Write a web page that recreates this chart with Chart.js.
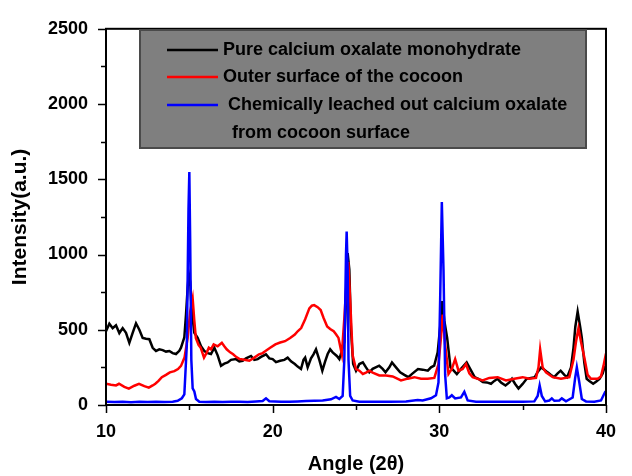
<!DOCTYPE html>
<html><head><meta charset="utf-8">
<script src="https://cdn.jsdelivr.net/npm/chart.js@4/dist/chart.umd.min.js"></script>
<style>html,body{margin:0;padding:0;background:#fff}#wrap{width:632px;height:476px}</style>
</head><body><div id="wrap"><canvas id="c" width="632" height="476"></canvas></div>
<script>
const seriesLabels = ["Pure calcium oxalate monohydrate", "Outer surface of the cocoon", " Chemically leached out calcium oxalate"];
const legendExtraLine = "from cocoon surface";
const xTickLabels = [10, 20, 30, 40];
const yTickLabels = [0, 500, 1000, 1500, 2000, 2500];

const blackAngle = [10.0,10.2,10.4,10.6,10.8,11.0,11.2,11.4,11.6,11.8,12.0,12.2,12.4,12.6,12.8,13.0,13.2,13.4,13.6,13.8,14.0,14.2,14.4,14.5,14.7,14.8,14.9,14.97,15.05,15.15,15.3,15.5,15.7,15.9,16.1,16.3,16.5,16.7,16.9,17.1,17.3,17.5,17.8,18.0,18.2,18.4,18.7,18.9,19.1,19.3,19.6,19.8,20.0,20.2,20.45,20.7,20.9,21.1,21.33,21.5,21.7,21.85,21.95,22.1,22.3,22.45,22.6,22.8,22.98,23.15,23.3,23.45,23.6,23.85,24.0,24.15,24.3,24.4,24.5,24.6,24.7,24.83,25.0,25.2,25.41,25.6,25.8,26.0,26.39,26.6,26.77,27.0,27.16,27.4,27.65,27.9,28.14,28.4,28.72,29.0,29.31,29.5,29.69,29.9,30.05,30.18,30.3,30.47,30.67,30.85,31.05,31.3,31.64,31.9,32.12,32.4,32.61,32.85,33.1,33.3,33.49,33.7,33.97,34.2,34.36,34.55,34.75,35.0,35.24,35.5,35.73,35.9,36.11,36.3,36.5,36.7,36.89,37.1,37.28,37.5,37.67,37.9,38.05,38.16,38.3,38.45,38.55,38.7,38.84,39.0,39.23,39.4,39.61,39.8,39.91,40.0];
const blackIntensity = [490,540,510,530,478,511,480,413,480,543,500,446,440,437,380,359,370,365,355,359,345,339,360,381,450,600,780,870,820,620,480,446,390,359,345,339,381,330,261,275,283,300,305,290,294,310,326,300,305,320,337,310,305,285,294,300,315,290,272,255,239,300,315,250,310,337,370,300,228,290,339,370,350,326,305,359,420,700,1010,900,500,272,228,272,283,250,217,240,261,240,217,250,283,250,217,200,185,210,239,235,228,250,261,350,520,690,560,446,250,230,206,240,283,230,185,170,152,150,141,160,174,150,130,150,174,140,109,140,174,180,185,220,250,235,217,200,185,210,228,200,185,250,380,520,620,520,446,280,174,160,141,155,174,210,250,260];

const redAngle = [10.0,10.3,10.6,10.78,11.1,11.37,11.7,11.98,12.3,12.57,12.8,12.96,13.15,13.35,13.6,13.83,14.1,14.32,14.5,14.71,14.9,15.05,15.2,15.3,15.39,15.55,15.68,15.88,16.05,16.17,16.3,16.46,16.7,16.95,17.1,17.24,17.45,17.63,17.8,18.02,18.3,18.6,18.9,19.18,19.4,19.57,19.85,20.16,20.45,20.74,21.05,21.33,21.5,21.71,21.95,22.2,22.35,22.49,22.7,22.88,23.05,23.27,23.45,23.66,23.8,23.95,24.15,24.3,24.45,24.54,24.65,24.8,25.0,25.2,25.41,25.6,25.8,26.0,26.4,26.8,27.2,27.7,28.1,28.5,28.9,29.3,29.7,29.95,30.1,30.2,30.35,30.55,30.75,30.95,31.15,31.4,31.6,31.8,32.0,32.6,33.0,33.5,34.0,34.5,35.0,35.4,35.8,35.95,36.05,36.2,36.4,36.8,37.3,37.8,38.05,38.2,38.35,38.5,38.7,38.9,39.1,39.5,39.7,39.85,39.95,40.0];
const redIntensity = [141,135,130,141,120,109,128,141,125,115,130,141,160,185,200,217,225,239,260,315,446,620,707,560,446,400,381,315,350,381,370,403,390,413,390,370,350,337,320,305,300,294,315,337,345,359,380,403,415,424,445,468,490,511,570,642,660,664,650,631,580,522,505,490,470,446,337,576,850,950,700,330,239,228,206,215,228,215,196,196,190,163,175,185,174,174,180,272,450,600,400,206,240,305,228,240,272,210,185,163,180,185,163,175,185,174,180,250,370,250,217,185,174,185,300,420,511,420,315,200,174,174,190,260,315,300];

const blueAngle = [10.0,10.5,11.0,11.5,12.0,12.5,13.0,13.5,14.0,14.3,14.55,14.7,14.85,14.95,15.0,15.05,15.12,15.2,15.3,15.4,15.6,16.0,16.5,17.0,17.5,18.0,18.5,19.0,19.4,19.6,19.8,20.5,21.0,21.5,22.0,22.5,23.0,23.5,23.8,24.0,24.2,24.3,24.4,24.44,24.5,24.55,24.65,24.8,25.2,26.0,27.0,28.0,28.7,29.0,29.5,29.8,29.95,30.05,30.15,30.25,30.35,30.45,30.6,30.75,30.95,31.3,31.5,31.7,32.2,33.0,34.0,35.0,35.7,35.9,36.02,36.15,36.35,36.6,36.75,36.9,37.2,37.35,37.6,38.0,38.15,38.25,38.4,38.55,38.8,39.3,39.7,39.95,40.0];
const blueIntensity = [22,20,22,18,22,20,22,20,22,28,45,70,400,1300,1548,1100,300,110,90,40,22,20,22,20,22,22,20,24,26,44,25,22,22,24,26,28,30,38,54,40,60,300,1000,1153,900,300,60,30,22,22,22,24,33,30,45,65,150,700,1349,900,200,44,50,65,44,50,87,30,22,22,22,22,24,60,130,60,24,30,44,28,30,44,25,50,180,250,150,40,24,22,30,87,90];

function pts(xs, ys){ return xs.map((x,i)=>({x:x, y:ys[i]})); }

const FONT = "'Liberation Sans', Arial, sans-serif";

const framePlugin = {
  id: 'frame',
  afterDatasetsDraw(chart){
    const {ctx, chartArea:a, scales} = chart;
    ctx.save();
    ctx.strokeStyle = '#000';
    ctx.lineWidth = 2;
    ctx.strokeRect(a.left, a.top, a.right - a.left, a.bottom - a.top);
    ctx.lineWidth = 1.5;
    ctx.beginPath();
    for (let v = 0; v <= 2500; v += 250) {
      const y = Math.round(scales.y.getPixelForValue(v)) + 0.5;
      const len = (v % 500 === 0) ? 8 : 5;
      ctx.moveTo(a.left, y); ctx.lineTo(a.left - len, y);
    }
    for (let v = 10; v <= 40; v += 5) {
      const x = Math.round(scales.x.getPixelForValue(v)) + 0.5;
      const len = (v % 10 === 0) ? 8 : 5;
      ctx.moveTo(x, a.bottom); ctx.lineTo(x, a.bottom + len);
    }
    ctx.stroke();
    const bx = 140, by = 30, bw = 446, bh = 118;
    ctx.fillStyle = '#7f7f7f';
    ctx.fillRect(bx, by, bw, bh);
    ctx.strokeStyle = '#4a4a4a';
    ctx.lineWidth = 2;
    ctx.strokeRect(bx, by, bw, bh);
    const rows = [50, 77, 105];
    ctx.font = 'bold 18px ' + FONT;
    ctx.textBaseline = 'middle';
    ctx.textAlign = 'left';
    chart.data.datasets.forEach((ds, i) => {
      const yy = rows[i];
      ctx.strokeStyle = ds.borderColor;
      ctx.lineWidth = 2.5;
      ctx.beginPath(); ctx.moveTo(167, yy); ctx.lineTo(218, yy); ctx.stroke();
      ctx.fillStyle = '#000';
      ctx.fillText(ds.label, 223, yy);
    });
    ctx.fillText(legendExtraLine, 232, 133);
    ctx.restore();
  }
};

new Chart(document.getElementById('c'), {
  type: 'line',
  data: {
    datasets: [
      {label: seriesLabels[0], data: pts(blackAngle, blackIntensity), borderColor: '#000000', order: 3},
      {label: seriesLabels[1], data: pts(redAngle, redIntensity), borderColor: '#ff0000', order: 2},
      {label: seriesLabels[2], data: pts(blueAngle, blueIntensity), borderColor: '#0000ff', order: 1}
    ]
  },
  options: {
    responsive: false,
    animation: false,
    elements: { point: { radius: 0 }, line: { borderWidth: 2.5, tension: 0, fill: false } },
    layout: { padding: { top: 24, right: 12, left: 0, bottom: 0 } },
    plugins: { legend: { display: false }, tooltip: { enabled: false } },
    scales: {
      x: {
        type: 'linear', min: 10, max: 40,
        afterFit(s){ s.height = 71; },
        afterBuildTicks(s){ s.ticks = xTickLabels.map(v => ({value: v})); },
        grid: { display: false, drawTicks: false },
        border: { display: false },
        ticks: { padding: 16, color: '#000', font: { family: FONT, size: 18, weight: 'bold' }, maxRotation: 0, callback: v => String(v) },
        title: { display: true, text: 'Angle (2θ)', color: '#000', font: { family: FONT, size: 20, weight: 'bold' }, padding: { top: 0, bottom: 0 } }
      },
      y: {
        min: 0, max: 2500,
        afterFit(s){ s.width = 106; },
        afterBuildTicks(s){ s.ticks = yTickLabels.map(v => ({value: v})); },
        grid: { display: false, drawTicks: false },
        border: { display: false },
        ticks: { padding: 18, color: '#000', font: { family: FONT, size: 18, weight: 'bold' }, callback: v => String(v) },
        title: { display: true, text: 'Intensity(a.u.)', color: '#000', font: { family: FONT, size: 21, weight: 'bold' }, padding: { top: 8, bottom: 0 } }
      }
    }
  },
  plugins: [framePlugin]
});
</script>
</body></html>
